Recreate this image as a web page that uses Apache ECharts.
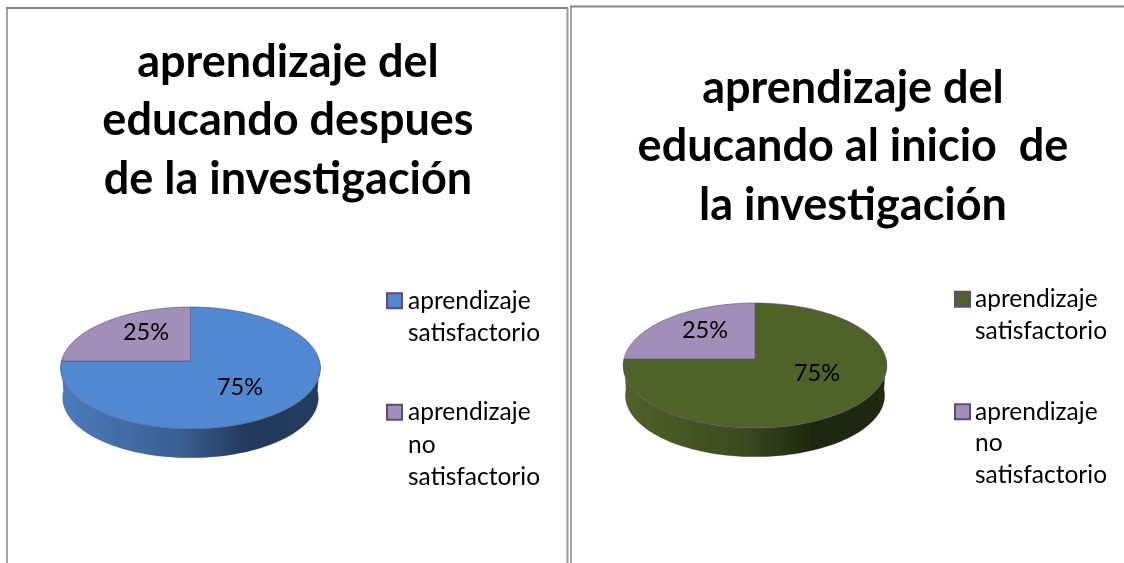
<!DOCTYPE html>
<html><head><meta charset="utf-8">
<style>html,body{margin:0;padding:0;background:#fff}#c{width:1124px;height:563px}</style>
<script src="https://cdn.jsdelivr.net/npm/echarts@6/dist/echarts.min.js"></script>
</head><body><div id="c"></div>
<script>
const categories = ['aprendizaje satisfactorio', 'aprendizaje no satisfactorio'];
const legendLines = [['', 'aprendizaje', 'satisfactorio'], ['', '', 'aprendizaje', 'no', 'satisfactorio']];
const leftValues = [75, 25];
const rightValues = [75, 25];
const leftTitle = 'aprendizaje del\neducando despues\nde la investigación';
const rightTitle = 'aprendizaje del\neducando al inicio  de\nla investigación';

const FONT = 'Lato';
const PURPLE = '#A18FBA';
const pies = [
  {values: leftValues, cx: 190.5, cy: 361, B: 129, A: 60.2, s: 0.1148, depth: 30, main: '#5088D2',
   wall: ['#4A7CBC', '#3A6093', '#21395A', '#243C5E'], labels: [[240, 387], [146, 332]], title: leftTitle, titleX: 288, titleY: 33,
   legendX: 386, legendTops: [252, 331], legendLine: 32.5, legendPad: 1},
  {values: rightValues, cx: 755, cy: 359, B: 131, A: 61.8, s: 0.104, depth: 30, main: '#4F6228',
   wall: ['#4F6228', '#3C4B1E', '#1D2710', '#1F2A11'], labels: [[817, 373], [705, 330]], title: rightTitle, titleX: 853, titleY: 59,
   legendX: 954, legendTops: [252, 333], legendLine: 31.5, legendPad: 0}
];

function pt(p, t, scale, dy) {
  const u = Math.sin(t) * scale, v = -Math.cos(t) * scale; // t clockwise from the far point
  const w = 1 - p.s * v;
  return [p.cx + p.B * u / w, p.cy + p.A * v / w + (dy || 0)];
}
function arc(p, from, to, scale, dy) {
  const out = [], n = 90;
  for (let i = 0; i <= n; i++) out.push(pt(p, from + (to - from) * i / n, scale, dy));
  return out;
}
function renderSlice(params, api) {
  const p = pies[api.value(0)], idx = api.value(1), val = api.value(2);
  const total = p.values.reduce((a, b) => a + b, 0);
  const start = idx === 0 ? 0 : p.values[0] / total * 2 * Math.PI;
  const end = start + val / total * 2 * Math.PI;
  const color = idx === 0 ? p.main : PURPLE;
  const stroke = 'rgba(96,74,123,0.6)';
  const children = [];
  if (idx === 0) {
    const wallPts = arc(p, Math.PI * 0.5, Math.PI * 1.5, 1).concat(arc(p, Math.PI * 1.5, Math.PI * 0.5, 0.985, p.depth));
    children.push({type: 'polygon', shape: {points: wallPts}, style: {
      fill: new echarts.graphic.LinearGradient(0, 0, 1, 0, [
        {offset: 0, color: p.wall[0]}, {offset: 0.45, color: p.wall[1]},
        {offset: 0.72, color: p.wall[2]}, {offset: 1, color: p.wall[3]}]),
      stroke: 'rgba(96,74,123,0.2)', lineWidth: 1}});
  }
  const pts = arc(p, start, end, 1);
  pts.push([p.cx, p.cy]);
  children.push({type: 'polygon', shape: {points: pts}, style: {fill: color, stroke: stroke, lineWidth: 1}});
  const l = p.labels[idx];
  children.push({type: 'text', z2: 10, style: {x: l[0], y: l[1], text: Math.round(val / total * 100) + '%',
    fill: '#000', font: '23.5px ' + FONT, align: 'center', verticalAlign: 'middle'}});
  return {type: 'group', children: children};
}
const series = [];
pies.forEach((p, pi) => categories.forEach((name, ci) => {
  series.push({type: 'custom', name: name, coordinateSystem: 'none', silent: true, animation: false,
    z: ci === 0 ? 2 : 3,
    renderItem: renderSlice, data: [[pi, ci, p.values[ci]]],
    itemStyle: {color: ci === 0 ? p.main : PURPLE}});
}));
const legends = [];
pies.forEach(p => categories.forEach((name, ci) => {
  legends.push({orient: 'vertical', left: p.legendX, top: p.legendTops[ci], padding: 0, selectedMode: false,
    itemWidth: 15, itemHeight: 15, itemGap: 0, icon: 'rect',
    data: [{name: name, itemStyle: {color: ci === 0 ? p.main : PURPLE, borderColor: '#604A7B', borderWidth: 2, opacity: 1}}],
    formatter: () => legendLines[ci].join('\n'),
    textStyle: {fontFamily: FONT, fontSize: 24.5, color: '#000', lineHeight: p.legendLine, padding: [0, 0, 0, p.legendPad]}});
}));
const titles = pies.map(p => ({text: p.title, left: p.titleX, top: p.titleY, textAlign: 'center', padding: 0,
  textStyle: {fontFamily: FONT, fontWeight: 'bold', fontSize: 45, lineHeight: 58.5, color: '#000'}}));
const frameLines = [
  [[7, 7], [7, 563], '#A6A6A6', 2], [[6, 8], [568, 8], '#868686', 2], [[567.5, 8], [567.5, 563], '#9A9A9A', 2],
  [[571, 6], [571, 563], '#A6A6A6', 2], [[570, 6.5], [1124, 6.5], '#868686', 2]
].map(l => ({type: 'line', silent: true, shape: {x1: l[0][0], y1: l[0][1], x2: l[1][0], y2: l[1][1]}, style: {stroke: l[2], lineWidth: l[3]}}));

const chart = echarts.init(document.getElementById('c'), null, {renderer: 'canvas'});
chart.setOption({animation: false, backgroundColor: '#fff', title: titles, legend: legends, series: series, graphic: frameLines, tooltip: {show: false}});
</script></body></html>
